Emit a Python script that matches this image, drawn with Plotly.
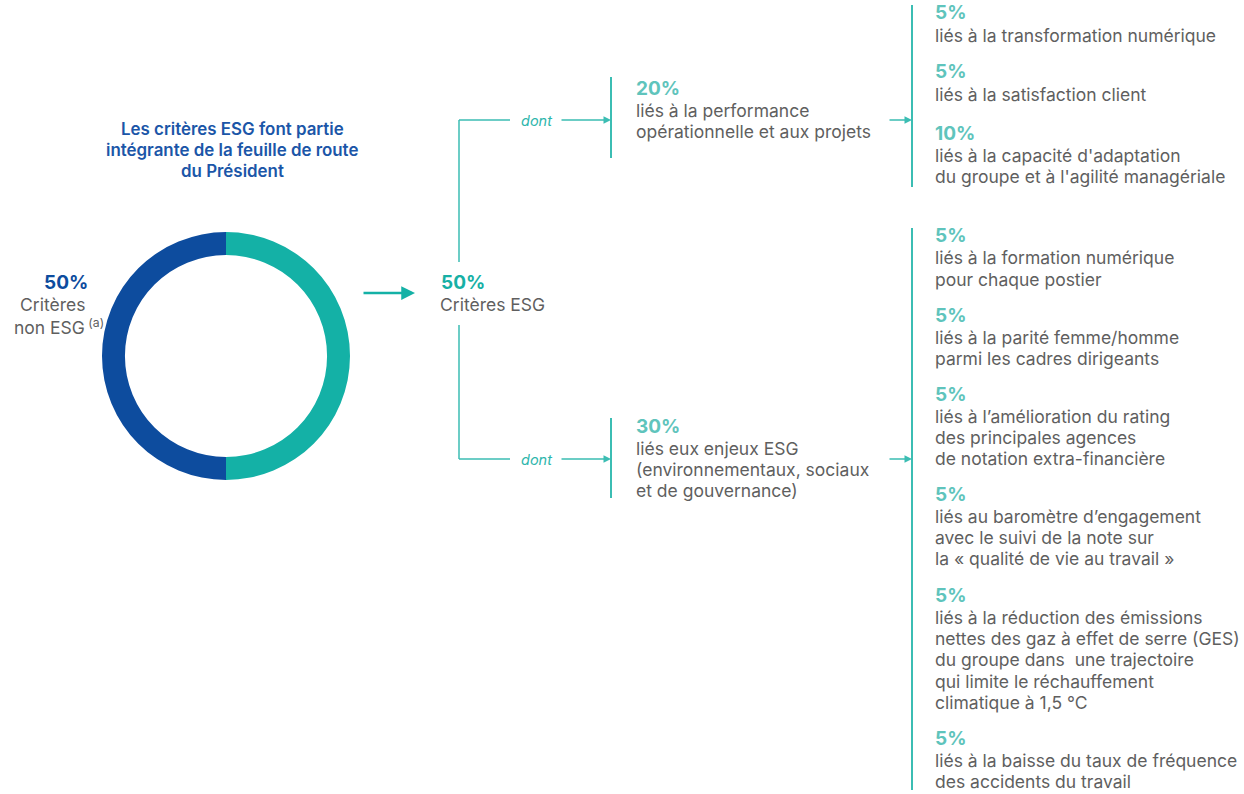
import plotly.graph_objects as go

W, H = 1244, 794

# ---- data ----
split_labels = ["Critères ESG", "Critères non ESG"]
split_values = [50, 50]
split_colors = ["#14b1a6", "#0d4c9e"]

title_lines = ["Les critères ESG font partie", "intégrante de la feuille de route", "du Président"]

mid_pcts = ["20%", "30%"]
mid_texts = [
    ["liés à la performance", "opérationnelle et aux projets"],
    ["liés eux enjeux ESG", "(environnementaux, sociaux", "et de gouvernance)"],
]

top_pcts = ["5%", "5%", "10%"]
top_texts = [
    ["liés à la transformation numérique"],
    ["liés à la satisfaction client"],
    ["liés à la capacité d'adaptation", "du groupe et à l'agilité managériale"],
]

bot_pcts = ["5%", "5%", "5%", "5%", "5%", "5%"]
bot_texts = [
    ["liés à la formation numérique", "pour chaque postier"],
    ["liés à la parité femme/homme", "parmi les cadres dirigeants"],
    ["liés à l\u2019amélioration du rating", "des principales agences", "de notation extra-financière"],
    ["liés au baromètre d\u2019engagement", "avec le suivi de la note sur", "la « qualité de vie au travail »"],
    ["liés à la réduction des émissions", "nettes des gaz à effet de serre (GES)",
     "du groupe dans  une trajectoire", "qui limite le réchauffement", "climatique à 1,5 °C"],
    ["liés à la baisse du taux de fréquence", "des accidents du travail"],
]
top_y = [13, 72, 133]
bot_y = [236, 315, 394, 494, 595, 738]

FONT = "Inter"
GREY = "#5f5f5f"
TEAL_TXT = "#5fc4bc"
TEAL_LINE = "#3bbdb3"
NAVY = "#0d4c9e"
TITLE_C = "#1b56a8"
LH = 21.4
TXT = 17.5
PCT = 19

def px(x):
    return x / W

def py(y):
    return 1 - y / H

fig = go.Figure()
fig.add_trace(go.Pie(
    labels=split_labels, values=split_values, hole=0.815, sort=False,
    direction="clockwise", rotation=0,
    marker=dict(colors=split_colors, line=dict(width=0)),
    textinfo="none", hoverinfo="label+value", showlegend=False,
    domain=dict(x=[px(102), px(350)], y=[py(480), py(232)]),
))

ann = []
shapes = []

def text(x, y, s, color=GREY, size=TXT, weight=400, italic=False, xanchor="left"):
    t = s
    if italic:
        t = "<i>" + t + "</i>"
    shift = {"left": -2, "right": 2, "center": 0}[xanchor]
    ann.append(dict(x=px(x + shift), y=py(y), xref="paper", yref="paper", text=t, showarrow=False,
                    xanchor=xanchor, yanchor="middle",
                    font=dict(family=FONT, size=size, color=color, weight=weight)))

def block(x, y0, pct, lines, pct_color=TEAL_TXT):
    text(x, y0, pct, color=pct_color, size=PCT, weight=700)
    for i, l in enumerate(lines):
        text(x, y0 + 22 + i * LH, l)

def line(x0, y0, x1, y1, w=2, color=TEAL_LINE):
    shapes.append(dict(type="line", xref="paper", yref="paper", x0=px(x0), y0=py(y0),
                       x1=px(x1), y1=py(y1), line=dict(color=color, width=w)))

def arrow(x0, y, x1, color=TEAL_LINE, w=1.5, size=1.2):
    ann.append(dict(x=px(x1), y=py(y), ax=-(x1 - x0), ay=0, xref="paper", yref="paper",
                    axref="pixel", ayref="pixel", text="", showarrow=True, arrowhead=2,
                    arrowsize=size, arrowwidth=w, arrowcolor=color))

# title
for i, l in enumerate(title_lines):
    text(232, 129 + i * 21, l, color=TITLE_C, size=16.9, weight=600, xanchor="center")

# left label
text(88, 283, "50%", color=NAVY, size=PCT, weight=700, xanchor="right")
text(85, 305, "Critères", xanchor="right")
text(104, 326, "non ESG<sup> (a)</sup>", xanchor="right")

# main arrow + ESG label
arrow(362, 293, 415, color="#14b1a6", w=2.5, size=1.1)
text(441, 282, "50%", color="#17b0a5", size=PCT, weight=700)
text(440, 305, "Critères ESG")

# connectors
line(459, 120, 459, 262, w=1.5)
line(459, 325, 459, 459, w=1.5)
for yy in (120, 459):
    line(459, yy, 510, yy, w=1.5)
    text(536, yy, "dont", color="#2eb6ac", size=14.5, italic=True, xanchor="center")
    arrow(560, yy, 611, w=1.5, size=1.0)

line(611, 77, 611, 158, w=2)
line(611, 418, 611, 498, w=2)

block(636, 88, mid_pcts[0], mid_texts[0])
block(636, 426, mid_pcts[1], mid_texts[1])

arrow(888, 120, 912, w=1.5, size=1.0)
arrow(888, 459, 912, w=1.5, size=1.0)

line(912, 5, 912, 187, w=2)
line(912, 228, 912, 790, w=2)

for p, t, y in zip(top_pcts, top_texts, top_y):
    block(935, y, p, t)
for p, t, y in zip(bot_pcts, bot_texts, bot_y):
    block(935, y, p, t)

fig.update_layout(
    width=W, height=H, margin=dict(l=0, r=0, t=0, b=0),
    paper_bgcolor="white", plot_bgcolor="white",
    annotations=ann, shapes=shapes, showlegend=False,
)
fig.write_html("out.html")
